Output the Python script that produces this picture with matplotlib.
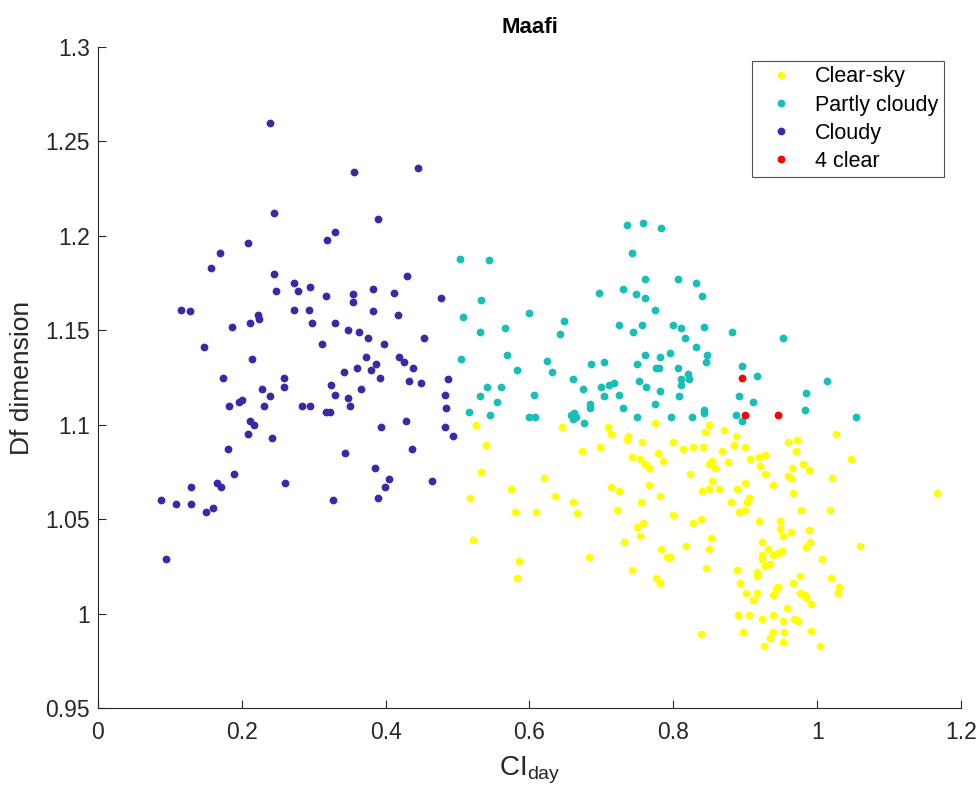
import numpy as np
import matplotlib
matplotlib.use("Agg")
import matplotlib.pyplot as plt

plt.rcParams['font.family'] = ['Liberation Sans', 'DejaVu Sans']

# Clear-sky days (CI_day, Df)
clear_x = [0.525, 0.540, 0.533, 0.517, 0.522, 0.574, 0.580, 0.609, 0.620, 0.635, 0.660, 0.666, 0.586, 0.582,
           0.645, 0.673, 0.698, 0.709, 0.714, 0.737, 0.736, 0.757, 0.774, 0.743, 0.753, 0.761, 0.766, 0.778,
           0.786, 0.799, 0.813, 0.823, 0.713, 0.725, 0.721, 0.766, 0.755, 0.781, 0.799, 0.750, 0.758, 0.753,
           0.732, 0.683, 0.743, 0.783, 0.791, 0.796, 0.817, 0.776, 0.781,
           0.850, 0.844, 0.870, 0.887, 0.884, 0.900, 0.827, 0.841, 0.868, 0.854, 0.850, 0.858, 0.876, 0.906,
           0.919, 0.927, 0.920, 0.927, 0.959, 0.972, 0.970, 1.026, 1.047, 0.981, 0.989, 0.965, 0.960, 0.964,
           1.020, 0.854, 0.840, 0.850, 0.863, 0.889, 0.900, 0.938, 0.966, 0.880, 0.905, 0.902, 0.900, 0.892,
           0.977, 1.018, 0.838, 0.827, 0.919, 0.948, 0.949, 0.953, 0.963, 0.989, 0.990, 0.985, 0.853, 0.850,
           0.924, 0.932, 0.923, 0.924, 0.939, 0.946, 0.951, 0.934, 0.928, 1.007, 1.059, 0.845, 0.889, 0.917,
           0.916, 0.976, 1.019, 0.893, 0.901, 0.916, 0.911, 0.938, 0.945, 0.943, 0.966, 0.976, 0.983, 0.984,
           0.992, 1.029, 1.031, 0.958, 0.890, 0.905, 0.924, 0.938, 0.953, 0.968, 0.974, 0.897, 0.938, 0.935,
           0.954, 0.952, 0.992, 0.926, 1.004, 0.838, 1.167]
clear_y = [1.100, 1.089, 1.075, 1.061, 1.039, 1.066, 1.054, 1.054, 1.072, 1.062, 1.059, 1.053, 1.028, 1.019,
           1.099, 1.086, 1.088, 1.099, 1.095, 1.094, 1.092, 1.091, 1.101, 1.083, 1.082, 1.079, 1.077, 1.085,
           1.081, 1.091, 1.087, 1.074, 1.067, 1.065, 1.055, 1.068, 1.059, 1.062, 1.052, 1.046, 1.048, 1.041,
           1.038, 1.030, 1.023, 1.034, 1.030, 1.030, 1.036, 1.019, 1.016,
           1.100, 1.096, 1.097, 1.094, 1.089, 1.088, 1.088, 1.088, 1.086, 1.081, 1.079, 1.077, 1.080, 1.082,
           1.083, 1.084, 1.078, 1.074, 1.091, 1.092, 1.086, 1.095, 1.082, 1.079, 1.076, 1.077, 1.073, 1.072,
           1.072, 1.070, 1.065, 1.066, 1.066, 1.066, 1.069, 1.068, 1.064, 1.059, 1.061, 1.059, 1.055, 1.054,
           1.055, 1.055, 1.050, 1.048, 1.049, 1.049, 1.045, 1.041, 1.043, 1.044, 1.038, 1.035, 1.040, 1.034,
           1.038, 1.034, 1.031, 1.029, 1.031, 1.032, 1.033, 1.026, 1.025, 1.029, 1.036, 1.024, 1.023, 1.022,
           1.020, 1.020, 1.019, 1.016, 1.011, 1.011, 1.007, 1.010, 1.014, 1.013, 1.016, 1.011, 1.010, 1.008,
           1.005, 1.011, 1.014, 1.003, 0.999, 0.999, 0.997, 0.999, 0.996, 0.997, 0.996, 0.990, 0.990, 0.987,
           0.990, 0.985, 0.991, 0.983, 0.983, 0.989, 1.064]

# Partly cloudy days
partly_x = [0.504, 0.533, 0.507, 0.531, 0.505, 0.531, 0.516, 0.544, 0.742, 0.566, 0.599, 0.648, 0.642, 0.696,
            0.730, 0.748, 0.724, 0.744, 0.569, 0.583, 0.624, 0.631, 0.685, 0.704, 0.749, 0.660, 0.675, 0.700,
            0.711, 0.718, 0.704, 0.725, 0.752, 0.541, 0.560, 0.555, 0.545, 0.606, 0.600, 0.608, 0.684, 0.684,
            0.658, 0.662, 0.665, 0.660, 0.676, 0.730, 0.749,
            0.735, 0.758, 0.783, 0.761, 0.807, 0.832, 0.840, 0.761, 0.774, 0.757, 0.800, 0.810, 0.816, 0.843,
            0.881, 0.953, 0.831, 0.796, 0.847, 0.846, 0.760, 0.782, 0.776, 0.780, 0.807, 0.895, 0.820, 0.822,
            0.810, 0.810, 0.762, 0.782, 0.808, 0.774, 0.917, 1.014, 0.891, 0.911, 0.984, 0.983, 0.842, 0.843,
            0.797, 0.826, 0.887, 1.054, 0.896]
partly_y = [1.188, 1.166, 1.157, 1.149, 1.135, 1.115, 1.107, 1.187, 1.191, 1.151, 1.159, 1.155, 1.148, 1.170,
            1.172, 1.169, 1.153, 1.149, 1.137, 1.129, 1.134, 1.128, 1.132, 1.133, 1.132, 1.124, 1.119, 1.120,
            1.121, 1.122, 1.115, 1.116, 1.123, 1.120, 1.120, 1.112, 1.105, 1.116, 1.104, 1.104, 1.111, 1.109,
            1.105, 1.106, 1.104, 1.103, 1.101, 1.109, 1.104,
            1.206, 1.207, 1.204, 1.177, 1.177, 1.175, 1.168, 1.167, 1.161, 1.153, 1.153, 1.151, 1.146, 1.152,
            1.149, 1.146, 1.141, 1.138, 1.137, 1.133, 1.137, 1.136, 1.130, 1.130, 1.130, 1.131, 1.127, 1.124,
            1.124, 1.121, 1.120, 1.118, 1.115, 1.111, 1.126, 1.123, 1.115, 1.112, 1.117, 1.108, 1.108, 1.106,
            1.104, 1.104, 1.105, 1.104, 1.102]

# Cloudy days
cloudy_x = [0.239, 0.245, 0.329, 0.319, 0.208, 0.170, 0.157, 0.245, 0.272, 0.247, 0.278, 0.295, 0.317,
            0.116, 0.128, 0.222, 0.224, 0.212, 0.187, 0.272, 0.293, 0.297, 0.330, 0.312, 0.148, 0.214, 0.174,
            0.258, 0.259, 0.228, 0.239, 0.324, 0.330, 0.200, 0.196, 0.182, 0.231, 0.283, 0.295, 0.317, 0.322,
            0.211, 0.217, 0.209, 0.242, 0.181, 0.189, 0.260, 0.129, 0.165, 0.171, 0.088, 0.109, 0.129, 0.160,
            0.150, 0.327, 0.095,
            0.356, 0.445, 0.389, 0.429, 0.383, 0.412, 0.355, 0.354, 0.477, 0.383, 0.417, 0.348, 0.363, 0.376,
            0.397, 0.453, 0.373, 0.419, 0.426, 0.438, 0.387, 0.379, 0.360, 0.342, 0.392, 0.433, 0.449, 0.487,
            0.366, 0.348, 0.350, 0.482, 0.484, 0.393, 0.428, 0.482, 0.494, 0.343, 0.437, 0.385, 0.405, 0.399,
            0.465, 0.389]
cloudy_y = [1.260, 1.212, 1.202, 1.198, 1.196, 1.191, 1.183, 1.180, 1.175, 1.171, 1.171, 1.173, 1.168,
            1.161, 1.160, 1.158, 1.156, 1.154, 1.152, 1.161, 1.161, 1.154, 1.154, 1.143, 1.141, 1.135, 1.125,
            1.125, 1.120, 1.119, 1.115, 1.121, 1.116, 1.113, 1.112, 1.110, 1.110, 1.110, 1.110, 1.107, 1.107,
            1.102, 1.100, 1.095, 1.093, 1.087, 1.074, 1.069, 1.067, 1.069, 1.067, 1.060, 1.058, 1.058, 1.056,
            1.054, 1.060, 1.029,
            1.234, 1.236, 1.209, 1.179, 1.172, 1.170, 1.169, 1.165, 1.167, 1.160, 1.158, 1.150, 1.149, 1.146,
            1.143, 1.146, 1.136, 1.136, 1.133, 1.130, 1.132, 1.129, 1.130, 1.128, 1.125, 1.123, 1.122, 1.124,
            1.119, 1.114, 1.110, 1.116, 1.109, 1.099, 1.102, 1.099, 1.094, 1.085, 1.087, 1.077, 1.071, 1.067,
            1.070, 1.061]

# the four clear days
four_x = [0.895, 0.899, 0.946]
four_y = [1.125, 1.105, 1.105]

fig = plt.figure(figsize=(9.79, 7.94), dpi=100)
ax = fig.add_axes([0.1001, 0.1083, 0.8815, 0.8325])

ms = 5.6
ax.plot(clear_x, clear_y, 'o', color='#ffff00', markersize=ms, markeredgewidth=0, label='Clear-sky')
ax.plot(partly_x, partly_y, 'o', color='#17bfb8', markersize=ms, markeredgewidth=0, label='Partly cloudy')
ax.plot(cloudy_x, cloudy_y, 'o', color='#3c27a6', markersize=ms, markeredgewidth=0, label='Cloudy')
ax.plot(four_x, four_y, 'o', color='#ff0000', markersize=ms, markeredgewidth=0, label='4 clear')

ax.set_xlim(0, 1.2)
ax.set_ylim(0.95, 1.3)
ax.set_xticks(np.arange(0, 1.21, 0.2))
ax.set_xticklabels(['0', '0.2', '0.4', '0.6', '0.8', '1', '1.2'])
ax.set_yticks([0.95, 1, 1.05, 1.1, 1.15, 1.2, 1.25, 1.3])
ax.set_yticklabels(['0.95', '1', '1.05', '1.1', '1.15', '1.2', '1.25', '1.3'])

for s in ['top', 'right']:
    ax.spines[s].set_visible(False)
for s in ['left', 'bottom']:
    ax.spines[s].set_color('#262626')
    ax.spines[s].set_linewidth(0.8)
ax.tick_params(direction='in', length=6, width=0.8, colors='#262626', labelsize=16.5)
ax.tick_params(axis='x', pad=9)
ax.tick_params(axis='y', pad=6)

ax.set_xlabel('CI$_{\\mathregular{day}}$', fontsize=20, color='#262626', labelpad=8)
ax.set_ylabel('Df dimension', fontsize=19, color='#262626', labelpad=8)
ax.set_title('Maafi', fontsize=16, fontweight='bold', pad=10)

leg = ax.legend(loc='upper right', bbox_to_anchor=(0.9803, 0.9788), borderaxespad=0, fontsize=15.5,
                frameon=True, fancybox=False, edgecolor='#262626', handletextpad=0.5, borderpad=0.25,
                labelspacing=0.33, handlelength=2.2)
leg.get_frame().set_linewidth(0.8)

fig.savefig('out.png', dpi=100)
